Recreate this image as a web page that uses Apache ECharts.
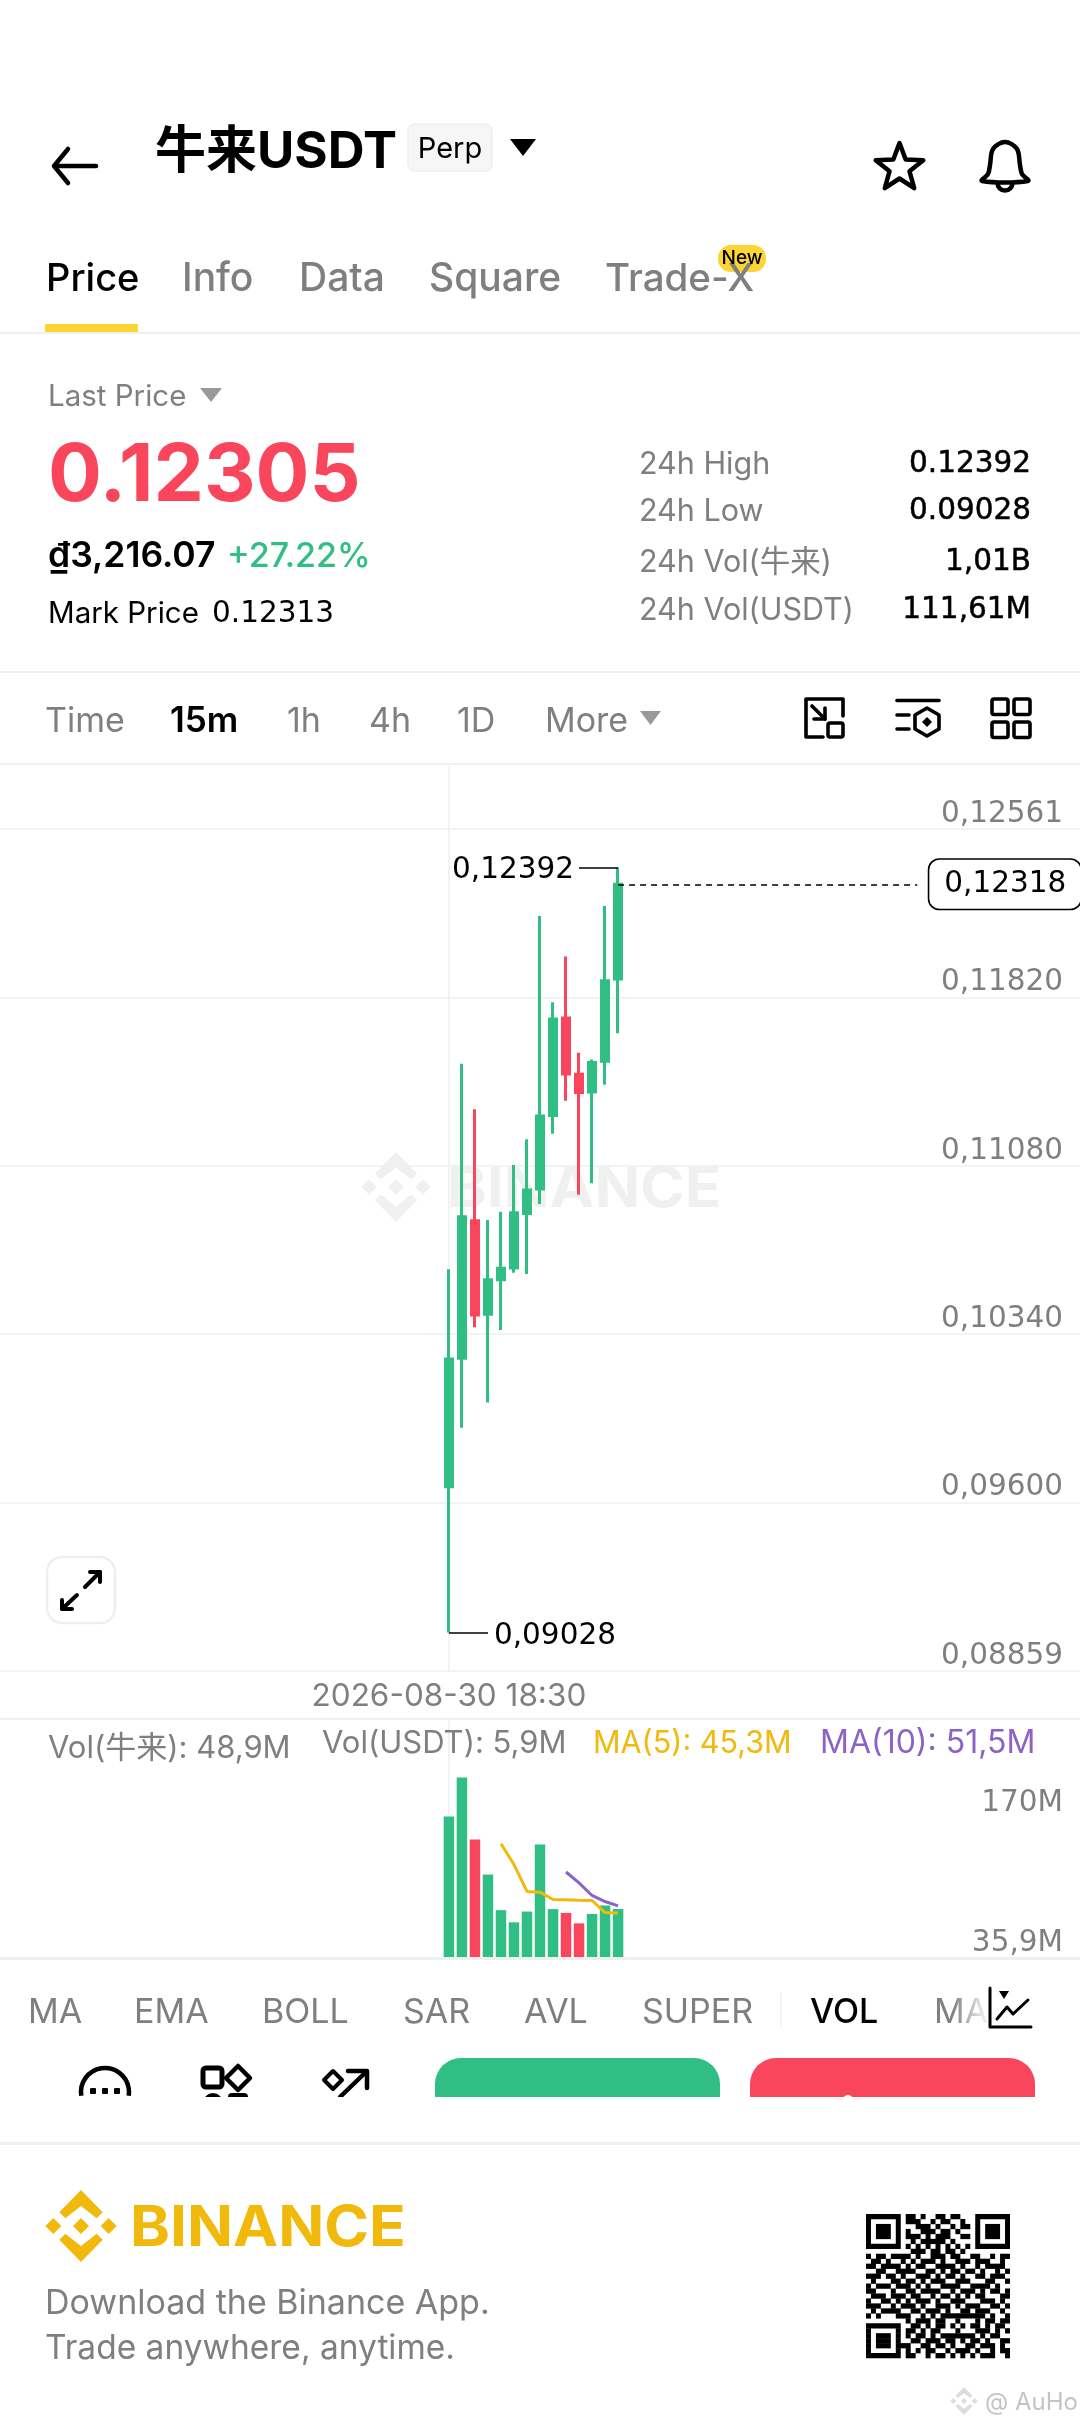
<!DOCTYPE html>
<html><head><meta charset="utf-8">
<style>html,body{margin:0;padding:0;background:#fff}#c{width:1080px;height:2427px}</style>
<script src="https://cdn.jsdelivr.net/npm/echarts@6/dist/echarts.min.js"></script>
</head><body><div id="c"></div>
<script>
const categories=['18:30','18:45','19:00','19:15','19:30','19:45','20:00','20:15','20:30','20:45','21:00','21:15','21:30','21:45'];
const datePrefix='2026-08-30 ';
const opens =[0.09669,0.10234,0.10839,0.10427,0.10579,0.10631,0.10870,0.10978,0.11301,0.11730,0.11483,0.11405,0.11540,0.11902];
const closes=[0.10231,0.10856,0.10424,0.10579,0.10630,0.10874,0.10974,0.11299,0.11726,0.11484,0.11403,0.11534,0.11894,0.12318];
const lows  =[0.09028,0.09929,0.10370,0.10040,0.10358,0.10610,0.10605,0.10912,0.11221,0.11366,0.10953,0.11003,0.11437,0.11663];
const highs =[0.10625,0.11529,0.11329,0.10842,0.10878,0.11084,0.11197,0.12178,0.11799,0.12000,0.11577,0.11548,0.12222,0.12392];
const volumes=[171.5,208.7,149.5,115.8,81.7,70.1,80.4,144.7,82.7,79.1,69.1,78.1,86.2,82.9];
const ma5 =[null,null,null,null,145.4,125.4,99.7,99,91.9,91.7,91.3,91,79.4,79];
const ma10=[null,null,null,null,null,null,null,null,null,118.3,107.8,95.8,90,85.8];
const priceTicks=[0.08859,0.09600,0.10340,0.11080,0.11820,0.12561];
const volTicks=[35.9,170];
const volTickLabels=['35,9M','170M'];
const lastClose=0.12318, dayHigh=0.12392, dayLow=0.09028;
const leadSlots=34, trailSlots=35;

const GREEN='#30BE85',RED='#F9465C',GRID='#EEF0F1',GREY='#7F7F7F',YEL='#F0B90B',PUR='#8C62C8',INK='#000';
const FF='Inter,"Noto Sans CJK SC",sans-serif';
const DJ='"DejaVu Sans",sans-serif';
const comma=v=>v.toFixed(5).replace('.',',');
const axisCats=[...Array(leadSlots).fill(''),...categories.map(c=>datePrefix+c),...Array(trailSlots).fill('')];
const ix=i=>i+leadSlots;
const g=[];
function t(x,y,text,size,fill,weight,align,fam,extra){g.push(Object.assign({type:'text',x,y:y+3.5,z:5,style:Object.assign({text,fill:fill||INK,font:(weight||400)+' '+size+'px '+(fam||FF),textAlign:align||'left',textVerticalAlign:'middle'},extra&&extra.style||{})},extra&&extra.el||{}));}
function pl(points,w,stroke,z){g.push({type:'polyline',z:z||5,shape:{points},style:{stroke:stroke||INK,lineWidth:w,fill:null,lineJoin:'round',lineCap:'round'}});}
function pg(points,fill,z){g.push({type:'polygon',z:z||5,shape:{points},style:{fill}});}
function pgs(points,w,stroke,z){g.push({type:'polygon',z:z||5,shape:{points},style:{fill:'none',stroke:stroke||INK,lineWidth:w,lineJoin:'round'}});}
function rc(x,y,w,h,fill,r,stroke,lw,z){g.push({type:'rect',z:z||4,shape:{x,y,width:w,height:h,r:r||0},style:{fill:fill||'none',stroke:stroke||null,lineWidth:lw||0}});}
function sep(y,h){rc(0,y,1080,h||2,GRID);}
function diamond(cx,cy,r,fill,z){pg([[cx,cy-r],[cx+r,cy],[cx,cy+r],[cx-r,cy]],fill,z);}
function logo(cx,cy,R,fill,z){const k=R/36,P=(a)=>a.map(p=>[cx+p[0]*k,cy+p[1]*k]);
 pg(P([[0,-36],[21.7,-13.7],[15.7,-7.7],[0,-20],[-15.7,-7.7],[-21.7,-13.7]]),fill,z);
 pg(P([[0,36],[21.7,13.7],[15.7,7.7],[0,20],[-15.7,7.7],[-21.7,13.7]]),fill,z);
 diamond(cx,cy,8*k,fill,z);diamond(cx-27.7*k,cy,8*k,fill,z);diamond(cx+27.7*k,cy,8*k,fill,z);}
const heavy={style:{stroke:INK,lineWidth:0.5}};

// header
pl([[96,166],[55,166]],4.5);pl([[68,149],[54,166],[68,183]],4.5);
t(155,149,'牛来USDT',51,INK,700);
rc(408,124,84,47,'#F6F6F6',7,'#EEEEEE',1.5);t(450,146,'Perp',29,INK,400,'center');
pg([[510,139],[536,139],[523,156]],INK);
{const pts=[];for(let i=0;i<10;i++){const a=-Math.PI/2+i*Math.PI/5,r=i%2?10.5:25;pts.push([899.5+r*Math.cos(a),168+r*Math.sin(a)]);}pgs(pts,4.5);}
g.push({type:'polygon',z:5,shape:{points:[[1005,142],[1017,149],[1020,165],[1022,174],[1028,181],[982,181],[988,174],[990,165],[993,149]],smooth:0.35},style:{fill:'none',stroke:INK,lineWidth:4.5}});
g.push({type:'arc',z:5,shape:{cx:1005,cy:183,r:7.5,startAngle:0,endAngle:Math.PI},style:{stroke:INK,lineWidth:4.5,fill:null}});
// tabs
t(46,276,'Price',38,INK,500);t(182,276,'Info',39,GREY,500);t(299,276,'Data',39,GREY,500);t(429,276,'Square',39,GREY,500);t(605,276,'Trade-X',38.5,GREY,500);
rc(718,245,48,27,'#FCD535',13);t(742,255,'New',19,INK,500,'center');
rc(45,324,93,8,'#FCD535');sep(332,2);
// price block
t(48,394,'Last Price',29.5,GREY);pg([[200,388],[222,388],[211,402]],'#999');
t(48,473,'0.12305',80,RED,700);
t(48,553,'₫3,216.07',35.5,INK,600);t(227,553,'+27.22%',34,GREEN,500);
t(48,611,'Mark Price',29.5,INK);t(212,611,'0.12313',29.5,INK,400,'left',DJ);
[['24h High','0.12392',461],['24h Low','0.09028',508],['24h Vol(牛来)','1,01B',559],['24h Vol(USDT)','111,61M',607]].forEach(r=>{t(639,r[2],r[0],30.5,GREY);t(1031,r[2],r[1],29.5,INK,400,'right',DJ,heavy);});
sep(671,2);
// intervals
[['Time',45,GREY,400,34],['15m',170,INK,600,35],['1h',287,GREY,400,34],['4h',369,GREY,400,34],['1D',457,GREY,400,34],['More',545,GREY,400,34]].forEach(a=>t(a[1],718,a[0],a[4],a[2],a[3]));
pg([[640,711],[661,711],[650.5,725]],'#999');
pl([[843,716],[843,699],[806,699],[806,737],[823,737]],3.6);rc(828,723,15,14,'none',2,INK,3.6,5);
pl([[812,706],[825,719]],3.6);pl([[825,708],[825,719],[814,719]],3.6);
pl([[897,700.5],[939,700.5]],3.6);pl([[897,715],[909,715]],3.6);pl([[897,729],[909,729]],3.6);
pgs([[927,708],[939,715],[939,729],[927,736],[915,729],[915,715]],3.6);diamond(927,722,5,INK);
[[992,699],[1014,699],[992,722],[1014,722]].forEach(p=>rc(p[0],p[1],16,15.5,'none',2,INK,3.6,5));
sep(763,2);
// watermark (behind the candles)
logo(396,1187,35,'#EEF1EE',0);
g.push({type:'text',x:447,y:1190,z:0,scaleX:1.055,style:{text:'BINANCE',fill:'#EEF1EE',font:'700 57px '+FF,textVerticalAlign:'middle'}});
// expand button
rc(47,1557,68,66,'#fff',15,'#EEEFEF',2.5,5);
pl([[85,1587],[100,1572]],4);pl([[90,1572],[100,1572],[100,1582]],4);
pl([[77,1595],[62,1609]],4);pl([[62,1600],[62,1609],[72,1609]],4);
sep(1718,2);
// legend of volume pane
t(48,1745.5,'Vol(牛来): 48,9M',31,GREY);t(322,1740,'Vol(USDT): 5,9M',31,GREY);t(593,1740,'MA(5): 45,3M',30.5,YEL);t(820,1740,'MA(10): 51,5M',32,PUR);
sep(1957,3);
// indicator row
[['MA',28,GREY,400],['EMA',134,GREY,400],['BOLL',262,GREY,400],['SAR',403,GREY,400],['AVL',524,GREY,400],['SUPER',642,GREY,400],['VOL',810,INK,500],['MACD',934,GREY,400]].forEach(a=>t(a[1],2009.5,a[0],34,a[2],a[3]));
rc(780,1992,1.5,35,GRID,0,null,0,5);
g.push({type:'rect',z:6,shape:{x:952,y:1985,width:38,height:50},style:{fill:{type:'linear',x:0,y:0,x2:1,y2:0,colorStops:[{offset:0,color:'rgba(255,255,255,0)'},{offset:1,color:'#fff'}]}}});
rc(988,1985,92,50,'#fff',0,null,0,6);
pl([[990,1988],[990,2027],[1031,2027]],3,INK,7);pg([[999,1991],[1009,1991],[1004,1999]],INK,7);
pl([[997,2019],[1007,2007],[1013,2014],[1028,2000]],3,INK,7);
// action row
g.push({type:'arc',z:5,shape:{cx:105,cy:2092,r:24,startAngle:Math.PI*0.95,endAngle:Math.PI*0.05,clockwise:true},style:{stroke:INK,lineWidth:4.5,fill:null}});
[93,105,117].forEach(x=>rc(x-3,2088,6,6,INK,1,null,0,5));
rc(203,2068,19,19,'none',3,INK,5,5);pgs([[238,2066],[250,2078],[238,2090],[226,2078]],4.5);
g.push({type:'circle',z:5,shape:{cx:213,cy:2103,r:10},style:{fill:INK}});rc(228,2093,20,16,INK,4,null,0,5);
pgs([[333,2071],[342,2080],[333,2089],[324,2080]],4);
pl([[340,2097],[366,2072]],4.5);pl([[348,2071],[367,2071],[367,2088]],4.5);
rc(435,2058,285,60,GREEN,[26,26,0,0]);rc(750,2058,285,60,RED,[26,26,0,0]);
g.push({type:'circle',z:4.5,shape:{cx:848,cy:2100,r:5},style:{fill:'#fff'}});
rc(0,2097,1080,46,'#fff',0,null,0,6);
rc(0,2142,1080,3,GRID,0,null,0,7);
// footer
logo(81,2226,36,YEL,5);
g.push({type:'text',x:130,y:2229,z:5,scaleX:1.08,style:{text:'BINANCE',fill:YEL,font:'700 56px '+FF,textVerticalAlign:'middle'}});
t(45,2300.5,'Download the Binance App.',34,GREY);
t(45,2345.5,'Trade anywhere, anytime.',33.5,GREY);
const qr=[
"11111110110100110110001111111",
"10000010111001011001001000001",
"10111010001110100101101011101",
"10111010100111011010001011101",
"10111010111010111001101011101",
"10000010010111110100001000001",
"11111110101010101010101111111",
"00000000011101101101000000000",
"10110111101001110110011001011",
"01101001010111010011101110010",
"11011110101100111101001011110",
"00110011110011010110110100101",
"11101101001110101101001101110",
"01000110110101110011100011001",
"10111011101010011110011110100",
"11000100110111100101110101101",
"01110111011001011010101100011",
"10011010101110100111000111010",
"11100101110100111010111001101",
"01011110011011101001101110010",
"10100011100101011111111101001",
"00000000101110110010001011011",
"11111110011010110101011010110",
"10000010110101100010001110101",
"10111010101101011111110101100",
"10111010011011101101011010011",
"10111011100110110100110111010",
"10000010101011001011101001011",
"11111110110010110101010111001"];
const QX=866,QY=2214,QM=144/29;
qr.forEach((row,j)=>{let i=0;while(i<row.length){if(row[i]==='1'){let s=i;while(i<row.length&&row[i]==='1')i++;rc(QX+s*QM,QY+j*QM,(i-s)*QM,QM+0.3,INK,0,null,0,5);}else i++;}});
logo(964,2401,14,'#DDDDDD',5);
t(985,2399,'@ AuHo',24,'#C4C4C4');

const up=i=>closes[i]>=opens[i];
const chart=echarts.init(document.getElementById('c'),null,{width:1080,height:2427,renderer:'canvas'});
const markText={fontSize:29.5,color:INK,fontFamily:DJ};
chart.setOption({
 animation:false,backgroundColor:'#fff',
 textStyle:{fontFamily:FF},
 graphic:{elements:g},
 grid:[{left:-1.9,width:1083.15,top:766,height:905,containLabel:false},{left:-1.9,width:1083.15,top:1720,height:238,containLabel:false}],
 xAxis:[
  {type:'category',gridIndex:0,data:axisCats,boundaryGap:true,axisLine:{show:false},axisTick:{show:false},splitLine:{show:false},
   axisLabel:{show:true,interval:(i)=>i===leadSlots,margin:10,fontSize:31.5,color:GREY,fontFamily:FF,lineHeight:31}},
  {type:'category',gridIndex:1,data:axisCats,boundaryGap:true,axisLine:{show:false},axisTick:{show:false},axisLabel:{show:false},splitLine:{show:false}}],
 yAxis:[
  {type:'value',gridIndex:0,position:'right',min:0.08859,max:0.12838,scale:true,axisLine:{show:false},axisTick:{show:false,customValues:priceTicks},
   splitLine:{show:true,lineStyle:{color:GRID,width:1.6}},
   axisLabel:{inside:true,margin:17,fontSize:29.5,color:GREY,fontFamily:DJ,verticalAlign:'bottom',customValues:priceTicks,formatter:v=>comma(v),padding:[0,0,0,0],showMinLabel:true,showMaxLabel:true}},
  {type:'value',gridIndex:1,position:'right',min:35.9,max:263.9,axisLine:{show:false},axisTick:{show:false,customValues:volTicks},splitLine:{show:false},
   axisLabel:{inside:true,margin:17,fontSize:29.5,color:GREY,fontFamily:DJ,verticalAlign:'bottom',customValues:volTicks,formatter:v=>volTickLabels[volTicks.indexOf(v)],padding:[0,0,0,0]}}],
 series:[
  {type:'line',name:'cursor',xAxisIndex:0,yAxisIndex:0,z:1,data:[],silent:true,
   markLine:{z:1,silent:true,symbol:'none',animation:false,label:{show:false},lineStyle:{color:GRID,width:1.6,type:'solid'},data:[{xAxis:ix(0)}]}},
  {type:'line',name:'cursor2',xAxisIndex:1,yAxisIndex:1,z:1,data:[],silent:true,
   markLine:{z:1,silent:true,symbol:'none',animation:false,label:{show:false},lineStyle:{color:GRID,width:1.6,type:'solid'},data:[{xAxis:ix(0)}]}},
  {type:'candlestick',name:'price',xAxisIndex:0,yAxisIndex:0,z:3,barWidth:7,
   encode:{x:0,y:[1,2,3,4]},
   data:categories.map((c,i)=>[ix(i),opens[i],closes[i],lows[i],highs[i]]),
   itemStyle:{color:GREEN,color0:RED,borderColor:GREEN,borderColor0:RED,borderWidth:3},
   markLine:{silent:true,symbol:'none',animation:false,z:4,data:[
    [{coord:[ix(13),dayHigh],lineStyle:{color:INK,width:1.6,type:'solid'},label:Object.assign({show:true,position:'end',distance:5,offset:[0,3],formatter:comma(dayHigh)},markText)},{coord:[ix(10),dayHigh]}],
    [{coord:[ix(0),dayLow],lineStyle:{color:INK,width:1.6,type:'solid'},label:Object.assign({show:true,position:'end',distance:6,offset:[0,4],formatter:comma(dayLow)},markText)},{coord:[ix(3),dayLow]}],
    [{coord:[ix(13),lastClose],lineStyle:{color:INK,width:1.6,type:[6,5]},label:Object.assign({show:true,position:'end',distance:12,formatter:comma(lastClose),backgroundColor:'#fff',borderColor:INK,borderWidth:1.6,borderRadius:10,padding:[10,14,9,15]},markText)},{coord:[ix(36),lastClose]}]
   ]}},
  {type:'bar',name:'vol',xAxisIndex:1,yAxisIndex:1,barWidth:10.5,z:2,
   data:volumes.map((v,i)=>({value:[ix(i),v],itemStyle:{color:up(i)?GREEN:RED}}))},
  {type:'line',name:'MA5',xAxisIndex:1,yAxisIndex:1,z:3,symbol:'none',lineStyle:{color:YEL,width:3},
   data:ma5.map((v,i)=>v==null?null:[ix(i),v]).filter(Boolean)},
  {type:'line',name:'MA10',xAxisIndex:1,yAxisIndex:1,z:3,symbol:'none',lineStyle:{color:PUR,width:3},
   data:ma10.map((v,i)=>v==null?null:[ix(i),v]).filter(Boolean)}
 ]
});
</script></body></html>
